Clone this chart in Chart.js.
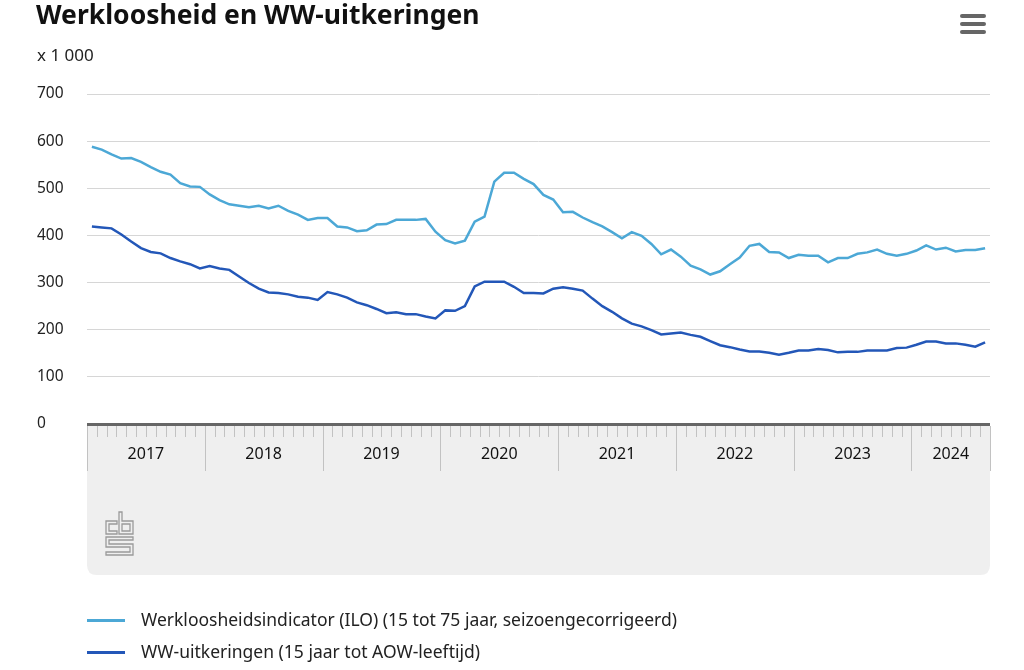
<!DOCTYPE html>
<html>
<head>
<meta charset="utf-8">
<script src="https://cdn.jsdelivr.net/npm/chart.js@4"></script>
<style>
  html, body { margin:0; padding:0; background:#fff; }
  #wrap { position:relative; width:1024px; height:670px; overflow:hidden; font-family:"Noto Sans", sans-serif; color:#1a1a1a; }
  #c { position:absolute; left:0; top:0; }
  #title { position:absolute; left:36px; top:-4px; font-size:26.5px; font-weight:700; color:#111; white-space:nowrap; }
  #unit { position:absolute; left:37px; top:43px; font-size:17px; color:#222; }
  .bar { position:absolute; left:960px; width:26px; height:4px; border-radius:2px; background:#666; }
  .lg-line { position:absolute; left:87px; width:38px; height:3px; }
  .lg-text { position:absolute; left:141px; font-size:17.5px; color:#222; white-space:nowrap; line-height:24px; }
</style>
</head>
<body>
<div id="wrap">
  <canvas id="c" width="1024" height="670"></canvas>
  <div id="title"></div>
  <div id="unit"></div>
  <div class="bar" style="top:14px"></div>
  <div class="bar" style="top:22px"></div>
  <div class="bar" style="top:30px"></div>
  <div id="legend"></div>
</div>
<script>
const chartTitle = 'Werkloosheid en WW-uitkeringen';
const unitLabel = 'x 1 000';
const years = ['2017','2018','2019','2020','2021','2022','2023','2024'];
const monthsInLastYear = 8;
const seriesNames = [
  'Werkloosheidsindicator (ILO) (15 tot 75 jaar, seizoengecorrigeerd)',
  'WW-uitkeringen (15 jaar tot AOW-leeftijd)'
];
const seriesColors = ['#4ca8d6', '#2357b8'];
const yTicks = [0,100,200,300,400,500,600,700];

// Werkloosheidsindicator (ILO), x 1 000, Jan 2017 – Aug 2024
const ilo = [
  588,582,572,563,564,556,545,535,529,511,504,503,
  487,475,466,463,460,463,457,463,452,444,433,437,
  437,419,417,409,411,423,424,433,433,433,435,408,
  390,383,389,429,440,514,533,533,520,509,486,476,
  449,450,438,428,419,407,394,407,399,382,360,370,
  355,336,328,317,324,339,353,378,382,365,364,352,
  359,357,357,343,352,352,361,364,370,361,357,361,
  368,379,370,374,366,369,369,373
];
// WW-uitkeringen, x 1 000
const ww = [
  419,417,415,402,387,373,365,362,352,345,339,330,
  335,330,327,313,299,287,279,278,275,270,268,263,
  280,275,268,258,252,244,235,237,233,233,228,224,
  241,240,250,292,302,302,302,291,278,278,277,287,
  290,287,283,266,250,238,224,213,207,199,190,192,
  194,189,185,176,167,163,158,154,154,151,147,151,
  156,156,159,157,152,153,153,156,156,156,161,162,
  168,175,175,171,171,168,164,173
];

const months = [];
years.forEach((y, yi) => {
  const n = yi === years.length - 1 ? monthsInLastYear : 12;
  for (let m = 1; m <= n; m++) months.push(y + '-' + String(m).padStart(2, '0'));
});

document.getElementById('title').textContent = chartTitle;
document.getElementById('unit').textContent = unitLabel;
const lg = document.getElementById('legend');
seriesNames.forEach((n, i) => {
  const l = document.createElement('div');
  l.className = 'lg-line';
  l.style.top = (619 + i * 32) + 'px';
  l.style.background = seriesColors[i];
  lg.appendChild(l);
  const t = document.createElement('div');
  t.className = 'lg-text';
  t.style.top = (607 + i * 32) + 'px';
  t.textContent = n;
  lg.appendChild(t);
});

const axisBox = {
  id: 'axisBox',
  afterDraw(chart) {
    const {ctx, chartArea: a, scales: {x}} = chart;
    const step = x.getPixelForValue(1) - x.getPixelForValue(0);
    const bnd = k => x.getPixelForValue(k) - step / 2;
    const top = a.bottom + 2, bottom = 575, r = 10;
    ctx.save();
    ctx.fillStyle = '#efefef';
    ctx.beginPath();
    ctx.moveTo(a.left, top);
    ctx.lineTo(a.right, top);
    ctx.lineTo(a.right, bottom - r);
    ctx.quadraticCurveTo(a.right, bottom, a.right - r, bottom);
    ctx.lineTo(a.left + r, bottom);
    ctx.quadraticCurveTo(a.left, bottom, a.left, bottom - r);
    ctx.closePath();
    ctx.fill();
    ctx.strokeStyle = '#c2c2c2';
    ctx.lineWidth = 1;
    for (let k = 0; k <= months.length; k++) {
      const px = Math.round(bnd(k)) + 0.5;
      const isYear = k % 12 === 0 || k === months.length;
      ctx.beginPath();
      ctx.moveTo(px, top);
      ctx.lineTo(px, isYear ? top + 45 : top + 11);
      ctx.stroke();
    }
    ctx.fillStyle = '#111';
    ctx.font = '16px "Noto Sans"';
    ctx.textAlign = 'center';
    ctx.textBaseline = 'middle';
    years.forEach((y, yi) => {
      const s = yi * 12;
      const e = Math.min(s + 12, months.length);
      ctx.fillText(y, (bnd(s) + bnd(e)) / 2, top + 28);
    });
    // logo
    ctx.strokeStyle = '#9a9a9a';
    ctx.lineWidth = 1.3;
    const poly = pts => { ctx.beginPath(); ctx.moveTo(pts[0][0], pts[0][1]); pts.slice(1).forEach(p => ctx.lineTo(p[0], p[1])); ctx.closePath(); ctx.stroke(); };
    poly([[106,521],[117,521],[117,524],[109,524],[109,531],[117,531],[117,534],[106,534]]);
    poly([[119,512],[122,512],[122,521],[133,521],[133,534],[119,534]]);
    poly([[122,524],[130,524],[130,531],[122,531]]);
    poly([[106,537],[133,537],[133,540],[109,540],[109,544],[133,544],[133,555],[106,555],[106,552],[130,552],[130,547],[106,547]]);
    ctx.restore();
  }
};

new Chart(document.getElementById('c'), {
  type: 'line',
  data: {
    labels: months,
    datasets: [
      { label: seriesNames[0], data: ilo, borderColor: seriesColors[0], backgroundColor: seriesColors[0] },
      { label: seriesNames[1], data: ww, borderColor: seriesColors[1], backgroundColor: seriesColors[1] }
    ]
  },
  options: {
    responsive: false,
    animation: false,
    devicePixelRatio: 1,
    layout: { padding: { left: 37, right: 34, top: 94, bottom: 246 } },
    plugins: { legend: { display: false }, tooltip: { enabled: false }, title: { display: false } },
    elements: { point: { radius: 0 }, line: { borderWidth: 2.5, tension: 0 } },
    scales: {
      x: { type: 'category', display: false, offset: true },
      y: {
        min: 0, max: 700,
        afterBuildTicks: s => { s.ticks = yTicks.map(v => ({ value: v })); },
        afterFit: s => { s.width = 50; },
        ticks: { crossAlign: 'far', padding: 0, color: '#222', font: { size: 15.5, family: 'Noto Sans' } },
        grid: {
          drawTicks: false,
          color: c => c.tick && c.tick.value === 0 ? '#666666' : '#d6d6d6',
          lineWidth: c => c.tick && c.tick.value === 0 ? 3 : 1
        },
        border: { display: false }
      }
    }
  },
  plugins: [axisBox]
});
</script>
</body>
</html>
